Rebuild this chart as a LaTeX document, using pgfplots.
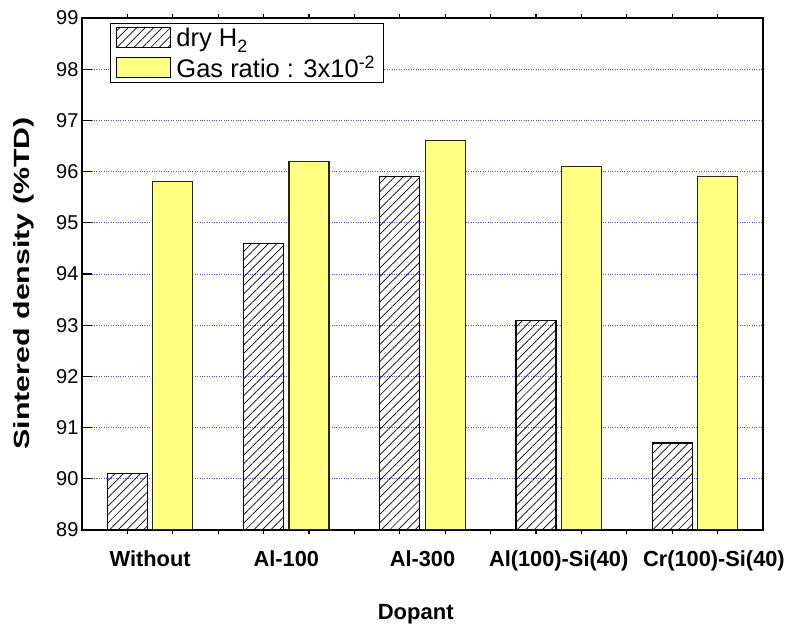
\documentclass[border=0pt]{standalone}
\usepackage{fontspec}
\setmainfont{Liberation Sans}
\usepackage{pgfplots}
\pgfplotsset{compat=1.18}
\usetikzlibrary{patterns.meta}
\definecolor{baryellow}{HTML}{FFFF80}
\definecolor{gridblue}{HTML}{5555EE}
\begin{document}
\begin{tikzpicture}
\begin{axis}[
  scale only axis, width=681pt, height=512pt,
  xmin=-0.5, xmax=4.5, ymin=89, ymax=99,
  ytick={89,...,99},
  xtick={0,...,4},
  xticklabels={Without, Al-100, Al-300, Al(100)-Si(40), \hspace*{38pt}Cr(100)-Si(40)},
  /pgf/number format/assume math mode=true,
  x tick label style={font=\fontsize{21.8}{24}\selectfont\bfseries, yshift=-7pt},
  y tick label style={font=\fontsize{20}{22}\selectfont},
  major x tick style={draw=none},
  minor xtick={-0.1667,0.1667,0.5,0.8333,1.1667,1.5,1.8333,2.1667,2.5,2.8333,3.1667,3.5,3.8333,4.1667},
  ytick pos=left,
  tick align=inside,
  major tick length=10pt, minor tick length=4pt,
  tick style={black, line width=1.2pt},
  ymajorgrids, grid style={gridblue, dotted, line width=0.9pt},
  axis line style={line width=1.6pt},
  ybar,
  xlabel={Dopant},
  ylabel={\scalebox{1.38}[1.0]{Sintered density (\%TD)}},
  xlabel style={font=\fontsize{22}{24}\selectfont\bfseries, at={(axis description cs:0.49,-0.165)}, anchor=center},
  ylabel style={font=\fontsize{22}{25}\selectfont\bfseries, at={(axis description cs:-0.085,0.482)}, anchor=center, rotate=0},
  legend style={at={(axis description cs:0.041,0.99)}, anchor=north west, draw=black, line width=1pt,
    font=\fontsize{25.5}{28}\selectfont, inner xsep=6pt, inner ysep=2pt, row sep=4pt, cells={anchor=west}},
  legend cell align=left,
]
\addplot[draw=black, line width=1.1pt, pattern={Lines[angle=45,distance=6pt,line width=0.7pt]}, pattern color=black,
  bar width=0.294, bar shift=-0.1667,
  legend image code/.code={\draw[draw=black, line width=1pt, pattern={Lines[angle=45,distance=6pt,line width=0.7pt]}] (0pt,-10pt) rectangle (54pt,10pt);}]
  coordinates {(0,90.1) (1,94.6) (2,95.9) (3,93.1) (4,90.7)};
\addlegendentry{\hspace{3pt}dry H\textsubscript{\raisebox{-3pt}{2}}}
\addplot[draw=black!85!baryellow, line width=1.1pt, fill=baryellow,
  bar width=0.294, bar shift=0.1667,
  legend image code/.code={\draw[draw=black, line width=1pt, fill=baryellow] (0pt,-10pt) rectangle (54pt,10pt);}]
  coordinates {(0,95.8) (1,96.2) (2,96.6) (3,96.1) (4,95.9)};
\addlegendentry{\hspace{3pt}Gas ratio : 3x10\textsuperscript{-2}}
\end{axis}
\path ([shift={(-82pt,-101pt)}]current axis.south west) rectangle ([shift={(27pt,18pt)}]current axis.north east);
\end{tikzpicture}
\end{document}
